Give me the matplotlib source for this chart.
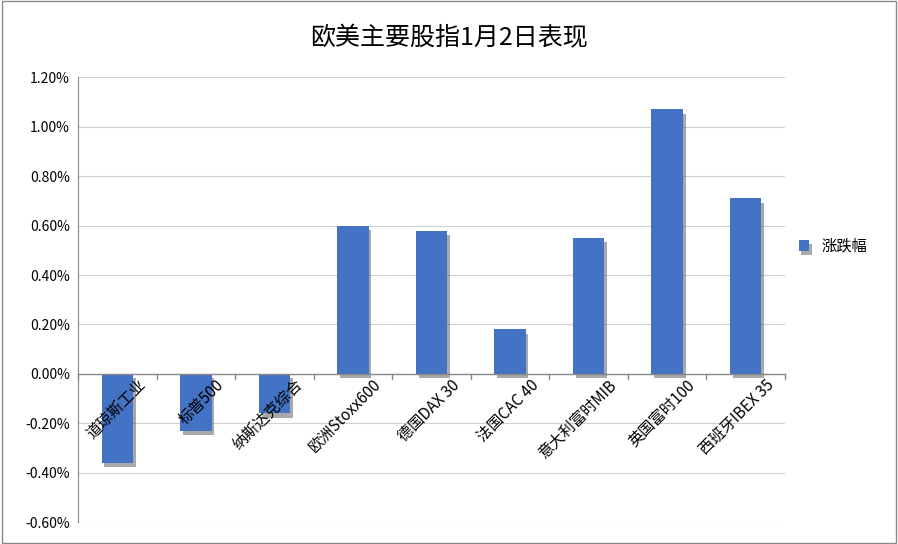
import matplotlib
matplotlib.use("Agg")
import matplotlib.pyplot as plt
from matplotlib.ticker import FuncFormatter, MultipleLocator
import matplotlib.patheffects as pe

plt.rcParams['font.family'] = ['Noto Sans CJK SC', 'DejaVu Sans']

categories = ["道琼斯工业", "标普500", "纳斯达克综合", "欧洲Stoxx600", "德国DAX 30",
              "法国CAC 40", "意大利富时MIB", "英国富时100", "西班牙IBEX 35"]
values = [-0.36, -0.23, -0.16, 0.60, 0.58, 0.18, 0.55, 1.07, 0.71]

fig = plt.figure(figsize=(8.98, 5.44), dpi=100)
fig.patches.append(plt.Rectangle((0.002, 0.002), 0.996, 0.996, transform=fig.transFigure,
                                 fill=False, edgecolor='#888888', lw=1))
ax = fig.add_axes([0.087, 0.040, 0.787, 0.818])
x = list(range(len(categories)))
ax.bar(x, values, width=0.4, color='#4472C4', zorder=3, label='涨跌幅',
       path_effects=[pe.SimplePatchShadow(offset=(2, -3), shadow_rgbFace='#555555', alpha=0.5), pe.Normal()])
ax.set_xlim(-0.5, len(categories) - 0.5)
ax.set_ylim(-0.6, 1.2)
ax.yaxis.set_major_locator(MultipleLocator(0.2))
ax.yaxis.set_major_formatter(FuncFormatter(lambda v, p: f"{v:.2f}%"))
ax.grid(axis='y', color='#d0d0d0', lw=0.8, zorder=0)
for s in ['top', 'right', 'bottom']:
    ax.spines[s].set_visible(False)
ax.spines['left'].set_color('#888888')
ax.axhline(0, color='#888888', lw=1, zorder=4)
ax.set_xticks([])
ax.tick_params(axis='y', labelsize=10, length=0, pad=6)
for xi, c in zip(x, categories):
    ax.text(xi + 0.25, -0.01, c, rotation=45, ha='right', va='top', fontsize=11,
            rotation_mode='anchor', transform=ax.transData, zorder=5)
for xi in range(len(categories) + 1):
    ax.plot([xi - 0.5, xi - 0.5], [0, -0.02], color='#888888', lw=1, clip_on=False, zorder=4)
fig.text(0.5, 0.93, "欧美主要股指1月2日表现", ha='center', va='center', fontsize=18)
ax.legend(loc='center left', bbox_to_anchor=(1.0, 0.62), frameon=False, fontsize=11,
          handlelength=0.7, handleheight=0.7)
fig.savefig("out.png", dpi=100)
